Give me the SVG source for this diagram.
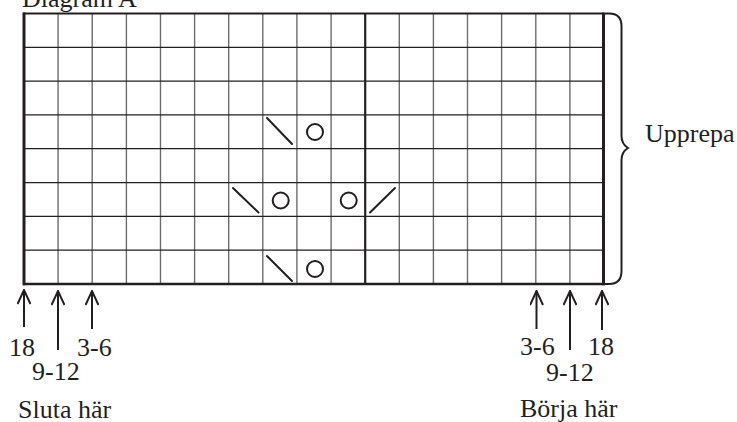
<svg xmlns="http://www.w3.org/2000/svg" width="737" height="422" viewBox="0 0 737 422">
<defs>
<style>
text{font-family:"Liberation Serif","Times New Roman",Times,"DejaVu Serif",serif;font-size:26px;fill:#231f20}
.v{stroke:#6d6d6d;stroke-width:1.4;fill:none}
.h{stroke:#231f20;stroke-width:1.2;fill:none}
.b{stroke:#231f20;fill:none}
.sym{stroke:#231f20;stroke-width:2;fill:none;stroke-linecap:round}
.arr{stroke:#231f20;stroke-width:2;fill:none}
</style>
<marker id="ah" viewBox="0 0 16 14" refX="15" refY="7" markerWidth="16" markerHeight="14" markerUnits="userSpaceOnUse" orient="auto-start-reverse">
<path d="M1,0.5 L15,7 L1,13.5" fill="none" stroke="#231f20" stroke-width="2"/>
</marker>
</defs>
<rect width="737" height="422" fill="#fff"/>
<text x="22" y="7" font-family="Liberation Serif, Times New Roman, serif">Diagram A</text>
<g id="grid">
<path class="v" d="M58.1,13.5V284M92.2,13.5V284M126.4,13.5V284M160.5,13.5V284M194.6,13.5V284M228.7,13.5V284M262.8,13.5V284M296.9,13.5V284M331.1,13.5V284M399.3,13.5V284M433.4,13.5V284M467.5,13.5V284M501.6,13.5V284M535.8,13.5V284M569.9,13.5V284"/>
<path class="h" d="M24,47.3H604M24,81.1H604M24,114.9H604M24,148.7H604M24,182.6H604M24,216.4H604M24,250.2H604"/>
<path class="b" stroke-width="2.2" d="M365.2,13.5V284"/>
<path class="b" stroke-width="2.2" d="M23,13.5H604"/>
<path class="b" stroke-width="2.6" d="M23,284H605"/>
<path class="b" stroke-width="3" d="M24,12.5V285.3"/>
<path class="b" stroke-width="3" d="M603.5,12.5V285.3"/>
</g>
<g id="symbols">
<path class="sym" d="M267,118L292,144"/>
<circle class="sym" cx="315" cy="132" r="8"/>
<path class="sym" d="M233,188L258.5,212.5"/>
<circle class="sym" cx="280.7" cy="200.5" r="8"/>
<circle class="sym" cx="348.7" cy="200.5" r="8"/>
<path class="sym" d="M370,212.5L395,188"/>
<path class="sym" d="M267,256L292,281"/>
<circle class="sym" cx="315" cy="269" r="8"/>
</g>
<g id="brace">
<path class="b" stroke-width="2" d="M605,13.5H609Q621.5,13.5 621.5,26V136Q621.5,144 628,148Q621.5,152 621.5,160V271Q621.5,284 609,284H605"/>
<text x="645" y="142" font-family="Liberation Serif, Times New Roman, serif">Upprepa</text>
</g>
<g id="connectors">
<path class="arr" marker-start="url(#ah)" d="M24,290V327"/>
<path class="arr" marker-start="url(#ah)" d="M58,291V350"/>
<path class="arr" marker-start="url(#ah)" d="M92,291V329"/>
<path class="arr" marker-start="url(#ah)" d="M536.5,291V329"/>
<path class="arr" marker-start="url(#ah)" d="M570,291V350"/>
<path class="arr" marker-start="url(#ah)" d="M602,291V330"/>
</g>
<g id="labels" font-family="Liberation Serif, Times New Roman, serif">
<text x="9" y="356">18</text>
<text x="32" y="380">9-12</text>
<text x="77" y="356">3-6</text>
<text x="18" y="418">Sluta här</text>
<text x="520" y="355">3-6</text>
<text x="588" y="355">18</text>
<text x="546" y="381">9-12</text>
<text x="520" y="417">Börja här</text>
</g>
</svg>
